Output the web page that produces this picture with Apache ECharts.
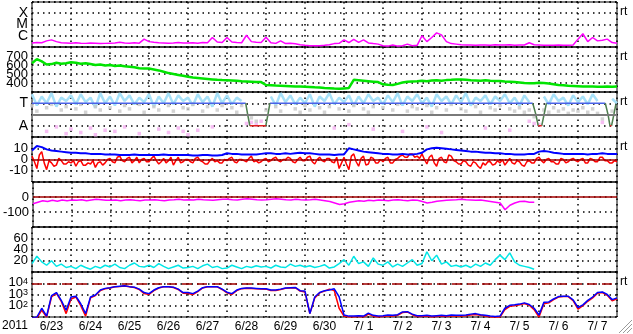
<!DOCTYPE html>
<html><head><meta charset="utf-8">
<script src="https://cdn.jsdelivr.net/npm/echarts@6/dist/echarts.min.js"></script>
<style>html,body{margin:0;padding:0;background:#fff}#c{width:633px;height:334px}</style>
</head><body><div id="c"></div>
<script>
// time axis: days since 2011-06-23 00 UT, samples every 3 h (Bz every 1.5 h)
const STEP = 0.125;
const BZ_STEP = 0.0625;
const dayLabels = ['6/23','6/24','6/25','6/26','6/27','6/28','6/29','6/30','7/ 1','7/ 2','7/ 3','7/ 4','7/ 5','7/ 6','7/ 7'];

// GOES X-ray flux, units of 1e-7 W/m2
const xrayE7 = [
 2.3,2.5,2.4,3.5,4.3,3.0,2.4,2.3, 2.2,2.4,2.2,2.1,2.3,2.2,2.0,2.1,
 2.2,2.3,2.6,2.3,2.2,2.4,2.2,5.0, 3.0,2.6,2.4,2.3,2.2,2.3,2.5,2.3,
 2.3,2.4,2.2,2.5,2.4,7.0,2.8,2.5, 7.0,2.8,2.5,2.4,11,3.0,2.6,2.5,
 7.5,2.4,2.1,3.5,2.0,2.2,1.9,1.6, 1.4,1.3,1.3,1.3,1.4,1.6,2.0,2.1,
 4.3,2.5,4.8,2.6,4.3,2.3,2.0,1.8, 1.3,1.2,1.5,1.2,1.3,1.8,1.3,1.4,
 10,3.0,7.0,18,12,3.0,2.0,1.8, 1.6,1.5,1.5,1.4,1.5,1.5,1.4,1.6,
 1.5,1.5,1.6,1.4,1.5,1.5,2.4,1.6, 1.5,1.4,1.4,1.4,1.5,1.4,1.4,1.5,
 5.0,15,3.0,7.0,3.5,4.0,5.0,2.5, 2.2];

// solar wind speed km/s
const speed = [
 620,665,640,605,610,625,615,620, 630,625,615,620,610,600,605,595,
 600,590,595,585,580,575,565,560, 560,550,540,525,510,500,490,480,
 470,460,455,450,445,440,435,432, 430,428,425,420,418,415,412,410,
 378,375,372,370,368,365,362,360, 358,355,352,350,345,342,338,335,
 340,345,435,430,425,420,415,410, 385,380,378,390,405,415,418,420,
 425,420,428,430,425,432,435,440, 438,435,430,428,425,430,425,422,
 422,418,415,410,405,400,398,396, 402,400,395,385,378,375,370,368,
 365,362,360,360,358,357,360,358, 360];

// sector panel: T = +1, A = -1
const phiBlue = [
 1.8,0.8,1.6,1.0,1.9,0.7,1.5,1.2, 1.7,0.9,1.8,1.1,1.5,0.6,1.9,1.0,
 1.6,0.8,1.9,1.2,1.7,0.9,1.5,1.1, 1.8,0.7,1.6,1.0,1.9,0.9,1.7,1.2,
 1.5,0.8,1.8,1.1,1.6,0.7,1.9,1.0, 1.7,0.9,1.5,1.2,null,null,null,null,
 null,1.6,0.8,1.9,1.1,1.7,0.9,1.5, 1.0,1.8,0.7,1.6,1.2,1.9,0.9,1.5,
 1.1,1.7,0.8,1.6,1.0,1.8,1.2,1.5, 0.9,1.7,1.1,1.9,0.8,1.6,1.2,1.8,
 1.0,1.5,0.7,1.8,1.2,1.6,0.9,1.7, 1.1,1.9,0.8,1.5,1.2,1.7,0.9,1.6,
 1.2,1.8,1.0,1.5,0.8,1.7,1.1,null, null,1.6,0.9,1.8,1.2,1.5,0.8,1.7,
 1.1,1.6,0.9,1.8,1.2,null,null,1.4, 1.0];
const phiGray = [
 0.8,0.3,null,0.6,0.9,null,0.4,0.7, null,0.5,0.9,0.2,null,0.7,0.4,null,
 0.6,null,0.3,0.8,0.5,null,0.9,0.2, null,0.7,0.4,null,0.8,0.3,null,0.6,
 0.5,0.9,null,0.3,0.7,null,0.4,0.8, null,0.6,0.2,0.8,null,-0.3,-0.6,null,
 0.4,null,0.7,0.3,0.9,null,0.5,0.2, 0.8,0.4,null,0.6,0.2,0.7,null,0.5,
 null,0.3,0.8,null,0.5,0.2,0.7,null, 0.6,null,0.4,0.9,null,0.3,0.7,0.5,
 null,0.8,0.2,0.6,null,0.4,0.9,null, 0.5,0.3,null,0.7,0.2,null,0.6,0.4,
 0.8,null,0.5,0.3,0.6,0.2,0.4,-0.2, null,0.4,0.2,0.6,0.3,0.5,0.1,0.4,
 0.3,0.6,0.2,0.5,0.1,-0.4,null,0.3];
const phiPink = [
 null,null,null,-1.5,null,-1.1,null,-1.7, -1.3,null,-1.6,null,-1.2,-1.8,null,-1.4,
 null,-1.5,null,-1.1,null,null,-1.7,null, null,null,-1.3,null,-1.6,null,-1.2,-1.5,
 -1.8,null,-1.4,null,null,-1.1,null,null, null,null,null,null,-0.8,-0.7,-0.9,-0.6,
 null,null,null,null,null,null,null,null, null,null,null,null,null,null,-1.2,null,
 null,-0.9,null,null,null,null,-1.3,null, null,null,null,null,-1.5,null,null,null,
 null,-1.1,null,null,-1.6,null,null,null, null,null,null,null,null,-1.2,null,null,
 null,null,-1.4,null,null,null,-0.6,-0.8, -0.9,null,null,null,null,null,null,null,
 null,null,null,null,null,-0.7,null,null];
const polBlueT = [0,5.48,5.5,6.1,12.84,12.9,13.19,14.7];
const polBlueV = [1,1,null,1,1,null,1,1];
const polGreenT = [5.48,5.53,5.585,5.59, 5.995,6.05,6.1,6.11, 12.84,12.92,12.98,13.0, 13.07,13.13,13.19,13.2, 14.7,14.77,14.82,14.83, 14.86,14.92,14.97];
const polGreenV = [1,0,-1,null, -1,0,1,null, 1,0,-1,null, -1,0,1,null, 1,0,-1,null, -1,0,0.9];
const polRedT = [5.585,5.995,6.0, 12.98,13.07,13.08, 14.82,14.86];
const polRedV = [-1,-1,null, -1,-1,null, -1,-1];

// IMF nT: Bt every 3 h, Bz every 1.5 h
const bt = [
 8,12,11,9,8,7.5,7,6.5, 6,6,5.5,5.5,5,5,5,4.5,
 4.5,4.5,4,4,4,4.5,4,4, 4,4,4,4.5,4,4,4,4,
 4,3.5,3.5,4,4,3.5,3.5,4, 5.5,5,5,4.5,4.5,4.5,4.5,5,
 5.5,5.5,5,5,5.5,5,5.5,6, 5.5,5.5,5,4.5,4.5,4.5,4,4.5,
 4.5,10,9,8,7,6.5,6,5.5, 5,5,4.5,4.5,5,4.5,4.5,5,
 6,9,10,10.5,10,9.5,9,8.5, 8,7.5,7,7,6.5,6,6,5.5,
 5.5,5,5,4.5,4.5,4.5,5,5, 7,7.5,7,6,5.5,5,5,5,
 5,5,4.5,5,5,5.5,5,5, 5];
const bz = [
 3,-2,-8,4,7,-3,-9,-1,-3,-6,-5,1,-1,-4,-4,-2,
 -3,-1,-6,-2,-1,-5,-5,-3,-4,-1,-7,-3,-2,-5,-3,0,
 1,-2,-3,2,3,-1,-2,1,2,-3,-1,2,-3,0,1,-2,
 -2,1,3,-1,-4,-2,1,-3,-1,2,-5,-1,2,-3,-2,0,
 0,-2,-3,1,2,-1,-2,-4,-4,-1,1,-2,-1,-3,-3,0,
 -1,1,2,-2,-3,0,0,-1,-2,1,3,-2,-1,-3,-2,0,
 1,-2,-1,1,2,-1,-2,0,0,2,1,-2,-3,0,2,-1,
 -1,2,3,-2,-4,0,2,-1,-2,1,1,-2,-3,2,-8,-3,
 2,-4,-9,3,5,-2,-6,1,3,-5,-4,2,1,-3,-3,0,
 -2,1,2,-3,-3,0,1,3,4,2,2,5,5,2,3,1,
 5,0,-4,2,4,-3,-6,1,2,-2,-3,4,3,-1,-2,-4,
 -4,-1,-2,-5,-6,-2,-3,-6,-8,-3,-5,-2,-2,-5,-4,-1,
 -3,0,-5,-2,1,-3,-4,-1,-2,-5,-6,-2,-1,-3,-3,1,
 2,-1,-3,0,1,-2,-2,-4,-4,1,0,-3,-2,0,1,-1,
 -2,0,1,-3,-3,1,0,-2,-2,2,2,-1,-1,-3,-3,-1,
 -2];

// Dst nT (ends 7/5)
const dst = [
 -45,-35,-25,-30,-22,-28,-20,-25, -20,-22,-18,-25,-20,-15,-18,-22,
 -22,-20,-25,-20,-18,-22,-25,-20, -20,-18,-22,-25,-20,-18,-15,-20,
 -18,-20,-15,-18,-20,-22,-18,-15, -15,-18,-20,-15,-12,-15,-18,-20,
 -18,-15,-12,-15,-18,-20,-15,-18, -20,-18,-15,-20,-25,-30,-40,-50,
 -45,-35,-30,-25,-28,-22,-25,-20, -22,-25,-20,-18,-22,-25,-20,-22,
 -30,-40,-35,-28,-25,-22,-20,-18, -15,-18,-20,-22,-20,-25,-30,-35,
 -40,-85,-55,-40,-30,-28,-35,-35];

// cyan panel (ends 7/5)
const cyanVals = [
 15,28,18,12,20,10,14,8, 10,6,12,8,5,10,7,12,
 9,14,8,6,12,16,10,9, 12,8,15,10,6,9,12,7,
 8,10,6,11,14,8,10,6, 7,12,9,6,10,8,11,9,
 10,7,12,9,8,14,10,12, 9,11,8,10,13,7,9,15,
 22,12,28,15,18,10,25,14, 12,18,9,14,10,16,22,12,
 15,36,20,30,14,18,10,12, 9,12,8,14,10,16,12,22,
 30,22,34,18,12,10,8,5];

// electron flux
const eBlue = [
 8,10,60,12,800,1500,300,40, 600,700,150,20,600,900,2500,3500,
 4000,5000,5500,6000,5000,4500,3000,1500, 1200,2500,4000,5000,5000,4500,3000,1500,
 1500,1200,2000,4000,5000,5000,5000,3000, 1600,1200,2500,3500,3800,3700,3500,3300,
 3200,2500,2500,3000,3800,4000,4200,2200, 2000,20,600,1500,2200,2500,3200,630,
 15,12,12,13,12,22,14,12, 13,15,14,16,28,30,18,13,
 13,14,12,13,14,13,15,14, 14,15,18,20,16,14,12,11,
 12,60,110,120,140,180,130,60, 15,200,220,400,650,700,700,330,
 70,120,300,600,1500,1700,1000,350, 500];
const eRed = [
 8,8,40,10,600,1300,250,20, 400,600,100,12,500,800,2200,3200,
 3800,4800,5200,5800,4800,4200,2800,1200, 1000,2200,3800,4800,4800,4200,2800,1300,
 1200,1000,1800,3800,4800,4800,4800,2800, 1400,1000,2200,3300,3600,3500,3300,3100,
 3000,2300,2300,2800,3600,3800,4000,2000, 1700,20,500,1400,2000,3000,2300,60,
 12,10,10,11,10,18,12,10, 11,13,12,14,25,28,16,11,
 11,12,10,11,12,11,13,12, 12,13,15,17,14,12,10,9,
 10,45,90,100,120,160,110,45, 10,150,180,350,600,650,650,280,
 50,100,250,500,1300,1500,850,280, 420];

const FONT = 'Liberation Sans';
const series = (arr, scale, step) => arr.map((v, i) => [i * (step || STEP), v == null ? '-' : v * (scale || 1)]);
const pts = (arr) => arr.map((v, i) => v == null ? null : [i * STEP, v]).filter(Boolean);
const pairs = (ts, vs) => ts.map((t, i) => [t, vs[i] == null ? '-' : vs[i]]);

const dotted = {show: true, lineStyle: {color: '#000', type: [1.5, 4], width: 1.5}};
const grids = [], xAxes = [], yAxes = [];
for (let i = 0; i < 7; i++) {
  grids.push({left: 32, right: 16, top: 2 + 45 * i, height: 45, show: true, borderColor: '#000', borderWidth: 1});
  xAxes.push({type: 'value', gridIndex: i, min: 0, max: 15, interval: 1, position: 'bottom',
    axisLine: {show: false}, axisTick: {show: false}, axisLabel: {show: false}, splitLine: dotted});
}
xAxes.push({type: 'category', gridIndex: 6, data: dayLabels, boundaryGap: true, position: 'bottom',
  axisLine: {show: false}, axisTick: {show: false}, splitLine: {show: false},
  axisLabel: {color: '#000', fontSize: 12, fontFamily: FONT, margin: 4, interval: 0}});

const lab = (fmt, size) => ({color: '#000', fontSize: size || 13, fontFamily: FONT, margin: 4, formatter: fmt, hideOverlap: false});
const yBase = {axisLine: {show: false}, axisTick: {show: false}, splitLine: dotted};
yAxes.push(Object.assign({type: 'log', gridIndex: 0, min: 1e-7, max: 1e-3, logBase: 10,
  axisLabel: lab(v => ({'-4': 'X', '-5': 'M', '-6': 'C'})[Math.round(Math.log10(v))] || '', 14)}, yBase));
yAxes.push(Object.assign({type: 'value', gridIndex: 1, min: 300, max: 800, interval: 100,
  axisLabel: lab(v => (v >= 400 && v <= 700) ? v : '')}, yBase));
yAxes.push(Object.assign({type: 'value', gridIndex: 2, min: -2, max: 2, interval: 1,
  axisLabel: lab(v => v === 1 ? 'T' : (v === -1 ? 'A' : ''), 14)}, yBase));
yAxes.push(Object.assign({type: 'value', gridIndex: 3, min: -20, max: 20, interval: 10,
  axisLabel: lab(v => Math.abs(v) <= 10 ? v : '')}, yBase));
yAxes.push(Object.assign({type: 'value', gridIndex: 4, min: -200, max: 100, interval: 100,
  axisLabel: lab(v => (v === 0 || v === -100) ? v : '')}, yBase));
yAxes.push(Object.assign({type: 'value', gridIndex: 5, min: 0, max: 80, interval: 20,
  axisLabel: lab(v => (v >= 20 && v <= 60) ? v : '')}, yBase));
yAxes.push(Object.assign({type: 'log', gridIndex: 6, min: 10, max: 1e5, logBase: 10,
  axisLabel: {color: '#000', fontFamily: FONT, margin: 4, hideOverlap: false,
    formatter: v => { const k = Math.round(Math.log10(v)); return (k >= 2 && k <= 4) ? '{b|10}{s|' + k + '}' : ''; },
    rich: {b: {fontSize: 13, fontFamily: FONT, color: '#000', verticalAlign: 'bottom', lineHeight: 12},
           s: {fontSize: 9, fontFamily: FONT, color: '#000', verticalAlign: 'top', lineHeight: 10, padding: [0, 0, 6, 0]}}}}, yBase));

const ml = (y, color, type, w) => ({silent: true, symbol: 'none', label: {show: false}, animation: false,
  lineStyle: {color: color, type: type || 'solid', width: w || 1.5}, data: [{yAxis: y}]});
const line = (xi, data, color, w, extra) => Object.assign({type: 'line', xAxisIndex: xi, yAxisIndex: xi,
  data: data, showSymbol: false, symbol: 'none', lineStyle: {color: color, width: w}, itemStyle: {color: color},
  connectNulls: false, z: 3, animation: false}, extra || {});
const scat = (xi, data, color, size) => ({type: 'scatter', xAxisIndex: xi, yAxisIndex: xi, data: data,
  symbol: 'rect', symbolSize: size, itemStyle: {color: color}, z: 2, animation: false});

const option = {
  animation: false,
  grid: grids, xAxis: xAxes, yAxis: yAxes,
  series: [
    line(0, series(xrayE7, 1e-7), '#ff00ff', 1.5),
    line(1, series(speed), '#00e400', 2.5),
    scat(2, pts(phiGray), '#c8c8c8', 3.5),
    line(2, series(phiBlue), '#a6e0f8', 2.5, {z: 2}),
    scat(2, pts(phiPink), '#f4aef0', 3.5),
    line(2, pairs(polBlueT, polBlueV), '#4a62e8', 1.5, {markLine: ml(0, '#7a7a7a', 'solid', 2)}),
    line(2, pairs(polGreenT, polGreenV), '#4f7f4f', 1.5),
    line(2, pairs(polRedT, polRedV), '#e02020', 1.5),
    line(3, series(bz, 1, BZ_STEP), '#ff0000', 1.5, {markLine: ml(0, '#a00000', 'solid', 1.5)}),
    line(3, series(bt), '#0000ff', 2),
    line(4, series(dst), '#ff00ff', 1.5, {markLine: ml(0, '#a00000', 'solid', 1.5)}),
    line(5, series(cyanVals), '#00e6e6', 1.5),
    line(6, series(eRed), '#ff0000', 1.5, {markLine: ml(1e4, '#a00000', [10, 5], 1.5)}),
    line(6, series(eBlue), '#0000ff', 1.5)
  ],
  graphic: [
    {type: 'text', left: 2, top: 320, style: {text: '2011', fontSize: 12, fontFamily: FONT, fill: '#000'}},
    {type: 'text', left: 620, top: 6, style: {text: 'rt', fontSize: 12, fontFamily: FONT, fill: '#000'}},
    {type: 'text', left: 620, top: 51, style: {text: 'rt', fontSize: 12, fontFamily: FONT, fill: '#000'}},
    {type: 'text', left: 620, top: 96, style: {text: 'rt', fontSize: 12, fontFamily: FONT, fill: '#000'}},
    {type: 'text', left: 620, top: 141, style: {text: 'rt', fontSize: 12, fontFamily: FONT, fill: '#000'}},
    {type: 'text', left: 620, top: 276, style: {text: 'rt', fontSize: 12, fontFamily: FONT, fill: '#000'}},
    {type: 'line', shape: {x1: 619, y1: 333, x2: 632, y2: 320}, style: {stroke: '#9a9a9a', lineWidth: 1}},
    {type: 'line', shape: {x1: 623, y1: 333, x2: 632, y2: 324}, style: {stroke: '#9a9a9a', lineWidth: 1}},
    {type: 'line', shape: {x1: 627, y1: 333, x2: 632, y2: 328}, style: {stroke: '#9a9a9a', lineWidth: 1}}
  ]
};
const chart = echarts.init(document.getElementById('c'), null, {renderer: 'canvas'});
chart.setOption(option);
</script>
</body></html>
